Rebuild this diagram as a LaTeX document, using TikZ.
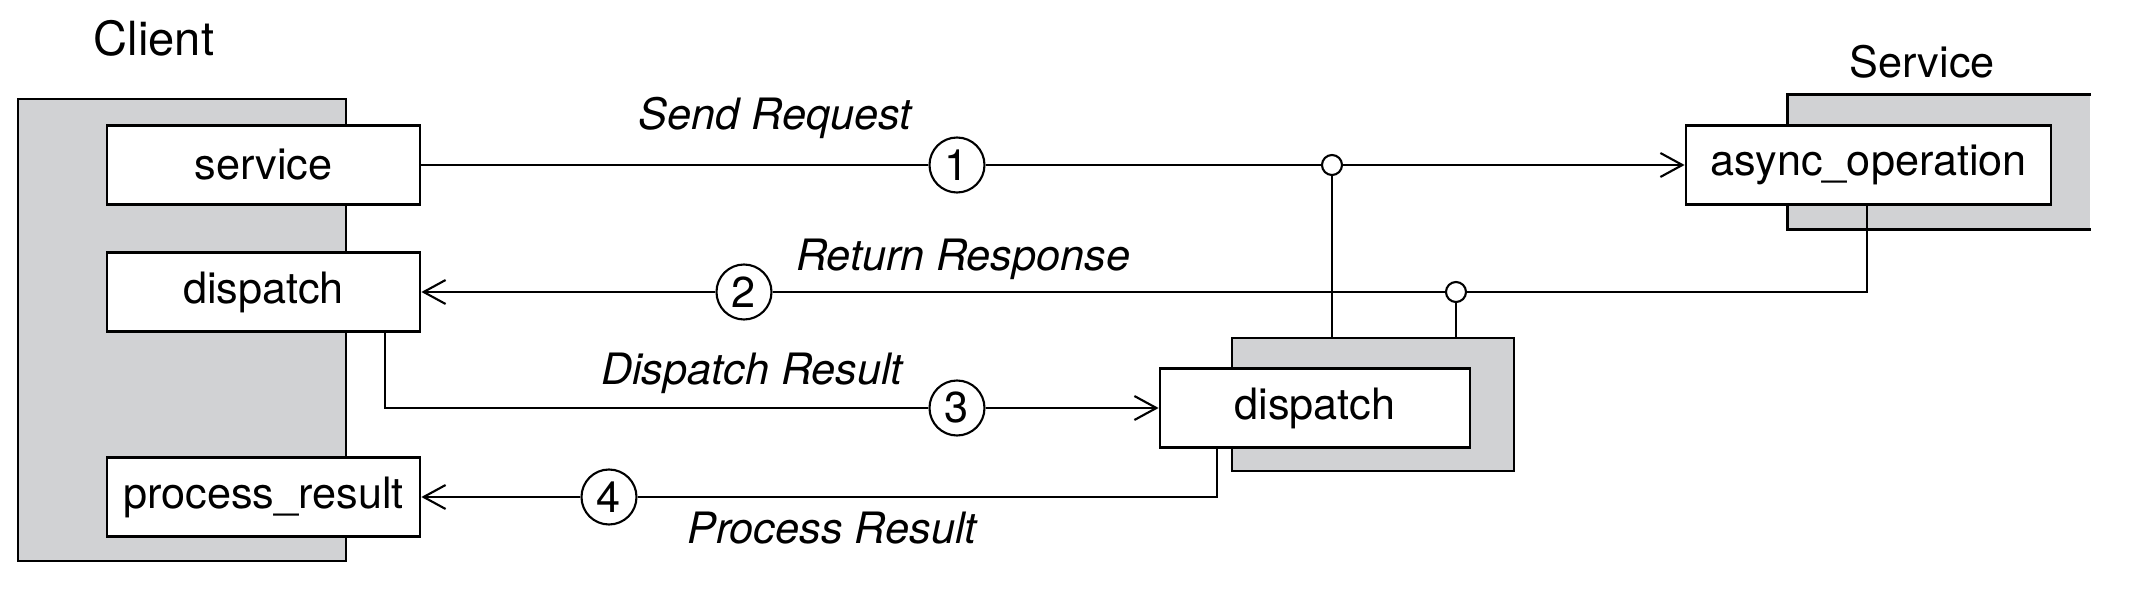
\documentclass[tikz,border=0pt]{standalone}
\usepackage{fontspec}
\setmainfont{TeX Gyre Heros}
\usepackage{tikz}
\usetikzlibrary{arrows.meta}
\definecolor{panelgray}{RGB}{209,210,212}
\tikzset{
	panelstyle/.style={rectangle,inner sep=0pt,fill=panelgray},
	boxstyle/.style={rectangle,draw=black,line width=0.8pt,fill=white,inner sep=0pt,minimum height=0.79cm,font=\fontsize{12.3}{14}\selectfont},
	numstyle/.style={circle,draw=black,line width=0.6pt,fill=white,inner sep=0pt,minimum size=0.55cm,font=\fontsize{12.3}{13}\selectfont},
	dotstyle/.style={circle,draw=black,line width=0.6pt,fill=white,inner sep=0pt,minimum size=0.2cm},
	labelstyle/.style={font=\fontsize{12.3}{14}\selectfont\itshape},
	linkstyle/.style={line width=0.6pt},
	arrowstyle/.style={line width=0.6pt,-{Straight Barb[length=0.22cm,width=0.24cm]}}
}

\begin{document}
\begin{tikzpicture}
	\useasboundingbox (0,0) rectangle (21.52,-5.98);
	% client side
	\node[panelstyle,draw=black,line width=0.8pt,minimum width=3.28cm,minimum height=4.62cm] (cp) at (1.82,-3.30) {};
	\node[font=\fontsize{13.4}{15}\selectfont] (client) at (1.54,-0.38) {Client};
	\node[boxstyle,minimum width=3.13cm] (service) at (2.635,-1.65) {service};
	\node[boxstyle,minimum width=3.13cm] (cdisp) at (2.635,-2.92) {dispatch};
	\node[boxstyle,minimum width=3.13cm] (proc) at (2.635,-4.97) {process\_result};
	% service side
	\node[panelstyle,minimum width=3.02cm,minimum height=1.34cm] (sp) at (19.39,-1.62) {};
	\draw[line width=0.8pt] (sp.north east) -- (sp.north west) -- (sp.south west) -- (sp.south east);
	\node[font=\fontsize{12.3}{14}\selectfont] (servlabel) at (19.22,-0.62) {Service};
	\node[boxstyle,minimum width=3.65cm] (async) at (18.685,-1.65) {async\_operation};
	% dispatcher
	\node[panelstyle,draw=black,line width=0.8pt,minimum width=2.82cm,minimum height=1.33cm] (dp) at (13.73,-4.045) {};
	\node[boxstyle,minimum width=3.10cm] (sdisp) at (13.15,-4.08) {dispatch};
	% junctions and steps
	\node[dotstyle] (j1) at (13.32,-1.65) {};
	\node[dotstyle] (j2) at (14.56,-2.92) {};
	\node[numstyle] (n1) at (9.57,-1.65) {1};
	\node[numstyle] (n2) at (7.44,-2.92) {2};
	\node[numstyle] (n3) at (9.57,-4.08) {3};
	\node[numstyle] (n4) at (6.09,-4.97) {4};
	\coordinate (rb) at (18.67,-2.92);
	\coordinate (db) at (3.85,-4.08);
	\coordinate (pb) at (12.17,-4.97);
	% request
	\draw[linkstyle] (service) -- (n1);
	\draw[linkstyle] (n1) -- (j1);
	\draw[arrowstyle] (j1) -- (async);
	\draw[linkstyle] (j1) -- (j1 |- dp.north);
	% response
	\draw[linkstyle] (async.south -| rb) -- (rb) -- (j2);
	\draw[linkstyle] (j2) -- (n2);
	\draw[arrowstyle] (n2) -- (cdisp);
	\draw[linkstyle] (j2) -- (j2 |- dp.north);
	% dispatch result
	\draw[linkstyle] (cdisp.south -| db) -- (db) -- (n3);
	\draw[arrowstyle] (n3) -- (sdisp);
	% process result
	\draw[linkstyle] (sdisp.south -| pb) -- (pb) -- (n4);
	\draw[arrowstyle] (n4) -- (proc);
	% labels
	\node[labelstyle] (l1) at (7.75,-1.18) {Send Request};
	\node[labelstyle] (l2) at (9.63,-2.59) {Return Response};
	\node[labelstyle] (l3) at (7.52,-3.73) {Dispatch Result};
	\node[labelstyle] (l4) at (8.32,-5.28) {Process Result};
\end{tikzpicture}
\end{document}
